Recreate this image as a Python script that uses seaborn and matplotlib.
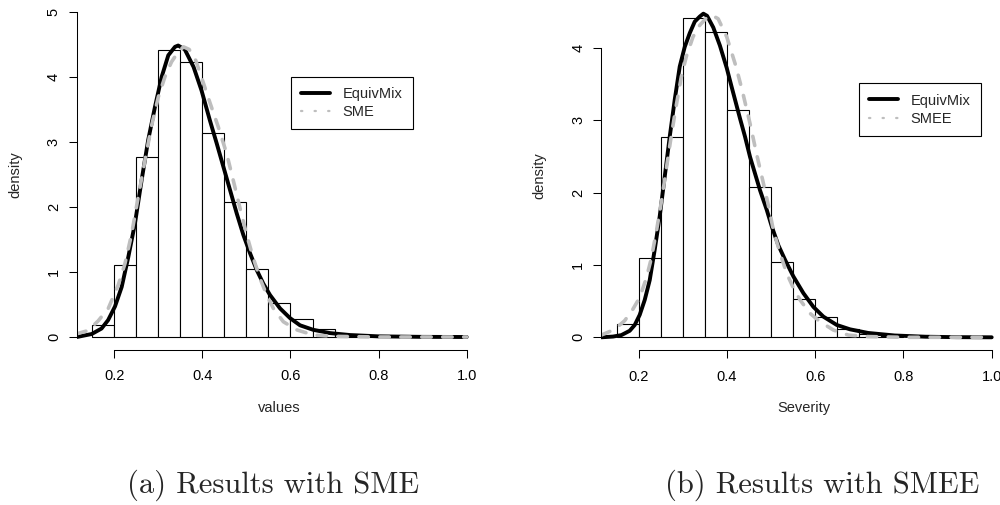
import numpy as np
import pandas as pd
import matplotlib
matplotlib.use("Agg")
import matplotlib.pyplot as plt
from matplotlib.lines import Line2D
import seaborn as sns

# ---------------- data ----------------
bin_edges = [0.15, 0.20, 0.25, 0.30, 0.35, 0.40, 0.45, 0.50, 0.55, 0.60, 0.65, 0.70, 0.75, 0.80]
bin_density = [0.19, 1.10, 2.76, 4.41, 4.22, 3.14, 2.08, 1.04, 0.53, 0.28, 0.12, 0.05, 0.02]

# panel (a)
equiv_a_x = [0.115, 0.1487, 0.171, 0.186, 0.2016, 0.2168, 0.2318, 0.247, 0.262, 0.277, 0.2924,
             0.3076, 0.3226, 0.3378, 0.345, 0.36, 0.38, 0.398, 0.417, 0.4325, 0.4475, 0.4627,
             0.4779, 0.4929, 0.508, 0.5233, 0.5383, 0.5535, 0.5762, 0.599, 0.6216, 0.6518,
             0.6897, 0.735, 0.8, 0.9, 1.0]
equiv_a_y = [0.0, 0.046, 0.13, 0.26, 0.47, 0.77, 1.23, 1.75, 2.41, 3.03, 3.54,
             4.0, 4.33, 4.46, 4.48, 4.42, 4.15, 3.79, 3.33, 2.975, 2.62, 2.26,
             1.90, 1.57, 1.29, 1.03, 0.82, 0.645, 0.44, 0.29, 0.18, 0.11,
             0.06, 0.03, 0.01, 0.002, 0.0]
sme_x = [0.115, 0.141, 0.1637, 0.1864, 0.209, 0.2243, 0.2395, 0.2545, 0.2697, 0.285, 0.3,
         0.315, 0.33, 0.345, 0.357, 0.37, 0.385, 0.4, 0.4177, 0.436, 0.455, 0.470, 0.4854,
         0.5006, 0.5156, 0.5308, 0.546, 0.561, 0.5837, 0.614, 0.652, 0.7, 0.8, 0.9, 1.0]
sme_y = [0.05, 0.10, 0.25, 0.44, 0.80, 1.13, 1.59, 2.16, 2.72, 3.26, 3.69,
         4.0, 4.23, 4.38, 4.46, 4.42, 4.25, 3.95, 3.59, 3.23, 2.82, 2.41, 1.98,
         1.57, 1.21, 0.90, 0.645, 0.44, 0.235, 0.11, 0.03, 0.01, 0.0, 0.0, 0.0]

# panel (b)
equiv_b_x = [0.115, 0.1417, 0.1606, 0.1796, 0.191, 0.2023, 0.2136, 0.225, 0.2363, 0.2476, 0.259,
             0.2703, 0.2816, 0.293, 0.3043, 0.3156, 0.327, 0.3383, 0.3465, 0.355, 0.369, 0.384,
             0.3995, 0.411, 0.4297, 0.441, 0.4524, 0.4637, 0.475, 0.4902, 0.5016, 0.5166,
             0.5317, 0.5506, 0.5732, 0.5959, 0.6186, 0.649, 0.679, 0.72, 0.78, 0.85, 0.92, 1.0]
equiv_b_y = [0.0, 0.01, 0.03, 0.09, 0.17, 0.31, 0.515, 0.79, 1.21, 1.67, 2.22,
             2.77, 3.28, 3.74, 4.01, 4.2, 4.36, 4.43, 4.47, 4.44, 4.28, 4.03,
             3.72, 3.45, 3.02, 2.77, 2.49, 2.26, 2.03, 1.76, 1.53, 1.27,
             1.07, 0.84, 0.61, 0.42, 0.285, 0.17, 0.11, 0.06, 0.025, 0.008, 0.002, 0.0]
smee_x = [0.115, 0.1456, 0.1683, 0.187, 0.2023, 0.2172, 0.2286, 0.24, 0.2513, 0.2626, 0.274,
          0.2853, 0.2966, 0.308, 0.3231, 0.3383, 0.3533, 0.3655, 0.38, 0.3995, 0.42, 0.435,
          0.4524, 0.4676, 0.4825, 0.4939, 0.5052, 0.5204, 0.5356, 0.5506, 0.5658, 0.5884,
          0.6111, 0.6413, 0.6753, 0.72, 0.8, 0.9, 1.0]
smee_y = [0.03, 0.11, 0.23, 0.39, 0.55, 0.815, 1.09, 1.46, 1.87, 2.33, 2.79,
          3.21, 3.6, 3.88, 4.15, 4.31, 4.41, 4.45, 4.4, 4.15, 3.75, 3.4,
          2.95, 2.52, 2.13, 1.82, 1.48, 1.16, 0.88, 0.68, 0.515, 0.33,
          0.215, 0.10, 0.03, 0.01, 0.0, 0.0, 0.0]

x_ticks = [0.2, 0.4, 0.6, 0.8, 1.0]
x_tick_labels = ["0.2", "0.4", "0.6", "0.8", "1.0"]

# ---------------- style ----------------
sns.set_style("ticks")
plt.rcParams["font.family"] = ["Liberation Sans", "DejaVu Sans"]
plt.rcParams["axes.linewidth"] = 0.75

W, H = 1000, 505
fig = plt.figure(figsize=(W / 100, H / 100), dpi=100)

FS = 10.5
GREY = "#BEBEBE"
centers = [(bin_edges[i] + bin_edges[i + 1]) / 2 for i in range(len(bin_density))]


def panel(rect, ylim, yticks, cx, cy, gx, gy, xlabel, legend_lab, leg_anchor):
    ax = fig.add_axes(rect)
    sns.histplot(x=centers, weights=bin_density, bins=bin_edges, stat="count",
                 color="white", edgecolor="black", linewidth=0.8, alpha=1, ax=ax)
    sns.lineplot(x=cx, y=cy, color="black", linewidth=2.8, estimator=None, ax=ax)
    sns.lineplot(x=gx, y=gy, color=GREY, linewidth=2.6, estimator=None, ax=ax)
    gl = ax.lines[-1]
    gl.set_dashes([2.6, 3.2])
    gl.set_dash_capstyle("round")
    ax.lines[-2].set_solid_capstyle("round")

    ax.set_xlim(0.115, 1.018)
    ax.set_ylim(*ylim)
    for s in ["top", "right"]:
        ax.spines[s].set_visible(False)
    ax.spines["left"].set_bounds(yticks[0], yticks[-1])
    ax.spines["bottom"].set_bounds(0.2, 1.0)
    ax.spines["left"].set_color("black")
    ax.spines["bottom"].set_color("black")
    ax.set_xticks(x_ticks)
    ax.set_xticklabels(x_tick_labels)
    ax.set_yticks(yticks)
    ax.set_yticklabels([str(v) for v in yticks])
    ax.tick_params(axis="both", direction="out", length=6, width=0.75, color="black",
                   labelsize=FS, labelcolor="black")
    ax.tick_params(axis="x", pad=8)
    ax.tick_params(axis="y", pad=5.5, labelrotation=90)
    for lab in ax.get_yticklabels():
        lab.set_va("center")
    ax.set_xlabel(xlabel, fontsize=FS)
    ax.set_ylabel("density", fontsize=FS)
    ax.xaxis.set_label_coords(0.51, -0.165)
    ax.yaxis.set_label_coords(-0.155, 0.5)
    ax.yaxis.label.set_va("center")
    ax.xaxis.label.set_va("center")
    ax.set_facecolor("white")

    handles = [Line2D([], [], color="black", linewidth=2.8),
               Line2D([], [], color=GREY, linewidth=1.6, linestyle=(0, (0.6, 5.5)),
                      dash_capstyle="round")]
    leg = ax.legend(handles, ["EquivMix", legend_lab], loc="upper left",
                    bbox_to_anchor=leg_anchor, bbox_transform=fig.transFigure,
                    borderaxespad=0, fontsize=FS, frameon=True, fancybox=False,
                    edgecolor="black", framealpha=1, borderpad=0.7,
                    labelspacing=0.3, handlelength=2.0, handletextpad=0.85)
    leg.get_frame().set_linewidth(0.8)
    return ax


def rect(left_px, right_px, bottom_px, top_px):
    return [left_px / W, (H - bottom_px) / H, (right_px - left_px) / W, (bottom_px - top_px) / H]


# panel (a): 0.2 at 114.3px, 1.0 at 466.7px; y 0 at 337px, 5 at 11.7px
sx_a = 440.5
sy_a = 65.06
ax1 = panel(rect(114.3 - 0.085 * sx_a, 114.3 + 0.818 * sx_a, 337 + 0.2 * sy_a, 337 - 5.18 * sy_a),
            (-0.2, 5.18), [0, 1, 2, 3, 4, 5],
            equiv_a_x, equiv_a_y, sme_x, sme_y, "values", "SME",
            (290.7 / W, 1 - 76.7 / H))

# panel (b): 0.2 at 638.7px, 1.0 at 991.7px; y 0 at 337.3px, 4 at 47.7px
sx_b = 441.25
sy_b = 72.4
ax2 = panel(rect(638.7 - 0.085 * sx_b, 638.7 + 0.818 * sx_b, 337.3 + 0.179 * sy_b, 337.3 - 4.65 * sy_b),
            (-0.179, 4.65), [0, 1, 2, 3, 4],
            equiv_b_x, equiv_b_y, smee_x, smee_y, "Severity", "SMEE",
            (859 / W, 1 - 83.3 / H))

fig.text(273 / W, 1 - 485 / H, "(a) Results with SME", ha="center", va="center",
         fontfamily=["cmr10", "DejaVu Serif"], fontsize=22)
fig.text(822 / W, 1 - 485 / H, "(b) Results with SMEE", ha="center", va="center",
         fontfamily=["cmr10", "DejaVu Serif"], fontsize=22)

fig.savefig("out.png", dpi=100, facecolor="white")
